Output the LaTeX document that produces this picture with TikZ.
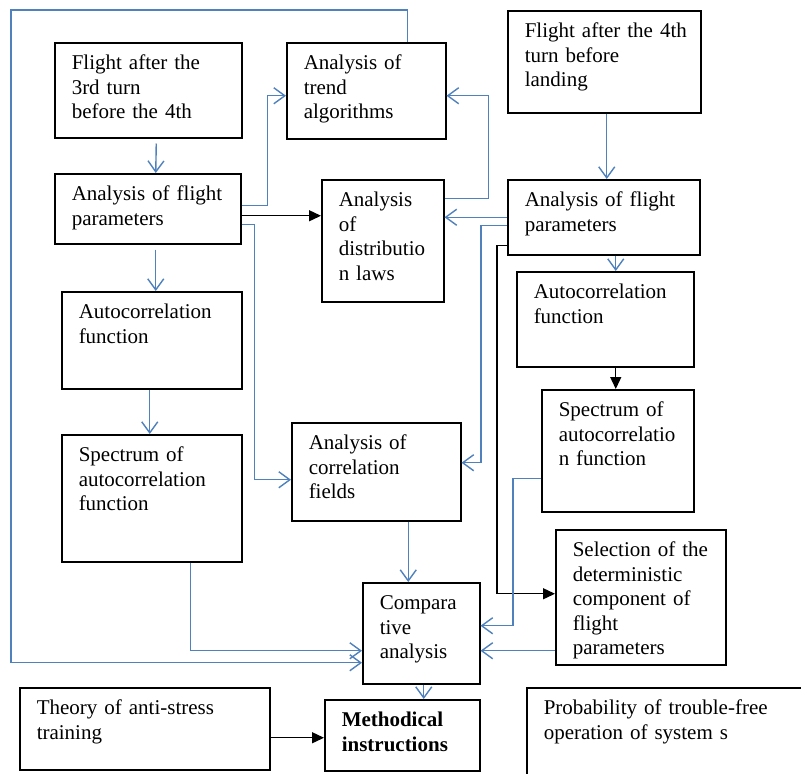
\documentclass[tikz,border=0pt]{standalone}
\usepackage{fontspec}
\setmainfont{Liberation Serif}
\usetikzlibrary{arrows.meta}
\definecolor{linkblue}{RGB}{79,129,189}
\hyphenpenalty=10000
\exhyphenpenalty=10000
\tikzset{
  blk/.style={draw, line width=1.5pt, anchor=north west, align=left,
    inner xsep=17pt, inner ysep=12pt, text height=15pt,
    font=\fontsize{21pt}{24.5pt}\selectfont},
  link/.style={draw=linkblue, line width=1.4pt, -{Straight Barb[length=11pt,width=16pt]}},
  flow/.style={draw=black, line width=1.4pt, -{Triangle[length=12pt,width=11pt]}}
}
\begin{document}
\begin{tikzpicture}[x=1pt,y=-1pt]
    \useasboundingbox (0,0) rectangle (801,774);
    \clip (0,0) rectangle (801,774);
    \node[blk, text width=153pt, text depth=56pt] (f3) at (54,42) {Flight after the\\3rd turn\\before the 4th};
    \node[blk, text width=125pt, text depth=57pt] (trend) at (286,42) {Analysis of\\trend\\algorithms};
    \node[blk, text width=159pt, text depth=63pt] (f4) at (507,10) {Flight~after~the~4th\\turn before\\landing};
    \node[blk, text width=152pt, text depth=31pt] (pL) at (54,173) {Analysis of flight\\parameters};
    \node[blk, text width=88pt, text depth=83pt] (distr) at (321,179) {Analysis\\of\\distributio\\n laws};
    \node[blk, text width=158pt, text depth=36pt] (pR) at (507,179) {Analysis of flight\\parameters};
    \node[blk, text width=146pt, text depth=58pt] (acL) at (61,291) {Autocorrelation\\function};
    \node[blk, text width=143pt, text depth=56pt] (acR) at (516,271) {Autocorrelation\\function};
    \node[blk, text width=146pt, text depth=88pt] (spL) at (61,434) {Spectrum of\\autocorrelation\\function};
    \node[blk, text width=135pt, text depth=59pt] (corr) at (291,422) {Analysis of\\correlation\\fields};
    \node[blk, text width=118pt, text depth=83pt] (spR) at (541,389) {Spectrum of\\autocorrelatio\\n function};
    \node[blk, text width=136pt, text depth=96pt] (sel) at (555,529) {Selection~of~the\\deterministic\\component of\\flight\\parameters};
    \node[blk, text width=83pt, text depth=62pt] (comp) at (362,582) {Compara\\tive\\analysis};
    \node[blk, text width=121pt, text depth=32pt] (meth) at (324,699) {\bfseries Methodical\\\bfseries instructions};
    \node[blk, text width=216pt, text depth=43pt] (theory) at (19,687) {Theory of anti-stress\\training};
    \node[blk, text width=256pt, text depth=61pt] (prob) at (526,687) {Probability of trouble-free\\operation of system s};
    % left column
    \draw[link] ([xshift=8pt,yshift=-5pt]f3.south) -- ([xshift=8pt]pL.north);  % f3 -- pL
    \draw[link] ([xshift=8pt,yshift=-5pt]pL.south) -- ([xshift=4pt]acL.north);  % pL -- acL
    \draw[link] ([xshift=-2pt]acL.south) -- ([xshift=-2pt]spL.north);  % acL -- spL
    \draw[link] ([yshift=3pt]pL.east) -- ++(26,0) |- ([yshift=-5pt]trend.west);  % pL -- trend
    \draw[flow] ([yshift=-7pt]pL.east) -- ([yshift=25pt]distr.west);  % pL -- distr
    \draw[link] ([yshift=-16pt]pL.east) -- ++(13,0) |- ([yshift=-8pt]corr.west);  % pL -- corr
    \draw[link] ([xshift=39pt]spL.south) |- ([yshift=-17.5pt]comp.west);  % spL -- comp
    \draw[link] ([xshift=41.5pt]trend.north) |- (11,10) |- ([yshift=-29.5pt]comp.west);  % trend -- comp
    % right column
    \draw[link] ([xshift=2.5pt]f4.south) -- ([xshift=3pt]pR.north);  % f4 -- pR
    \draw[link] ([yshift=42pt]distr.east) -- ++(44,0) |- ([yshift=-5pt]trend.east);  % distr -- trend
    \draw[link] (pR.west) -- (pR.west -| distr.east);  % pR -- distr
    \draw[link] ([yshift=-8.5pt]pR.west) -- ++(-26,0) |- ([yshift=9pt]corr.east);  % pR -- corr
    \draw[flow] ([yshift=-28.5pt]pR.west) -- ++(-10,0) |- ([yshift=3.5pt]sel.west);  % pR -- sel
    \draw[link] ([xshift=12pt]pR.south) -- ([xshift=10.5pt]acR.north);  % pR -- acR
    \draw[flow] ([xshift=10.5pt]acR.south) -- ([xshift=-2pt]spR.north);  % acR -- spR
    \draw[link] ([yshift=-28pt]spR.west) -- ++(-28,0) |- ([yshift=7.5pt]comp.east);  % spR -- comp
    \draw[link] ([yshift=-53.5pt]sel.west) -- ([yshift=-17.5pt]comp.east);  % sel -- comp
    % bottom
    \draw[link] ([xshift=32pt]corr.south) -- ([xshift=-13pt]comp.north);  % corr -- comp
    \draw[link] ([xshift=2.5pt]comp.south) -- ([xshift=21.5pt]meth.north);  % comp -- meth
    \draw[flow] ([yshift=-9pt]theory.east) -- ([yshift=-2.5pt]meth.west);  % theory -- meth
\end{tikzpicture}
\end{document}
